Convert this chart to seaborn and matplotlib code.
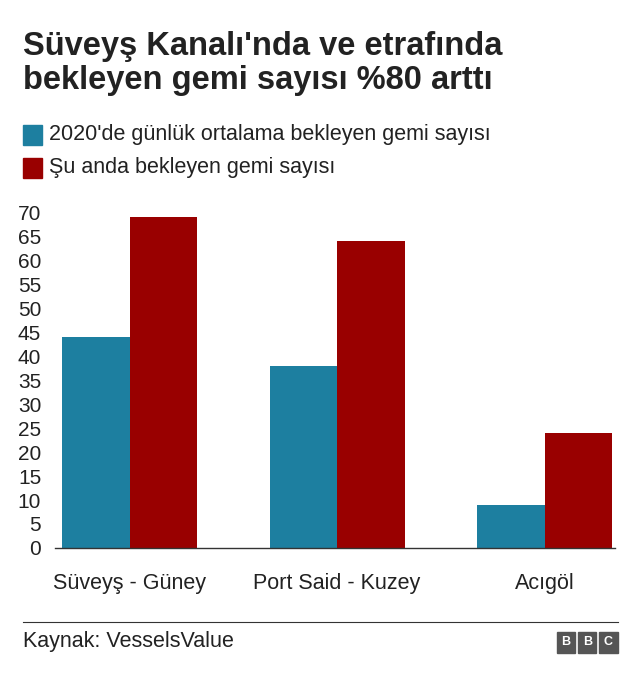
import matplotlib
matplotlib.use("Agg")
import matplotlib.pyplot as plt
import seaborn as sns
import pandas as pd
from matplotlib.patches import Rectangle

categories = ["Süveyş - Güney", "Port Said - Kuzey", "Acıgöl"]
avg_2020 = [44, 38, 9]
current = [69, 64, 24]
series_names = ["2020'de günlük ortalama bekleyen gemi sayısı", "Şu anda bekleyen gemi sayısı"]
yticks = list(range(0, 75, 5))

df = pd.DataFrame({
    "cat": categories * 2,
    "val": avg_2020 + current,
    "series": [series_names[0]] * 3 + [series_names[1]] * 3,
})
colors = ["#1d7fa0", "#990000"]

plt.rcParams["font.family"] = "Liberation Sans"
fig = plt.figure(figsize=(6.4, 6.82), dpi=100)
ax = fig.add_axes([0.086, 0.1965, 0.875, 0.4925])
sns.barplot(data=df, x="cat", y="val", hue="series", palette=colors, width=0.65,
            saturation=1, ax=ax, legend=False)
ax.set_xlim(-0.36, 2.34)
ax.set_ylim(0, 70)
ax.set_yticks(yticks)
ax.set_yticklabels([str(t) for t in yticks], fontsize=15, color="#222222")
ax.tick_params(axis="y", length=0, pad=10)
ax.tick_params(axis="x", length=0, pad=18, labelsize=15.5, labelcolor="#222222")
ax.set_xlabel("")
ax.set_ylabel("")
for s in ["top", "right", "left"]:
    ax.spines[s].set_visible(False)
ax.spines["bottom"].set_color("#333333")
ax.spines["bottom"].set_linewidth(1)

fig.text(0.036, 0.955, "Süveyş Kanalı'nda ve etrafında\nbekleyen gemi sayısı %80 arttı",
         fontsize=23.5, fontweight="bold", va="top", ha="left", color="#222222", linespacing=1.15)
for i, (name, c) in enumerate(zip(series_names, colors)):
    y = 0.803 - i * 0.049
    fig.patches.append(Rectangle((0.036, y - 0.015), 0.03, 0.029, transform=fig.transFigure,
                                 color=c, figure=fig))
    fig.text(0.077, y, name, fontsize=15.5, va="center", ha="left", color="#222222")

fig.add_artist(plt.Line2D([0.036, 0.965], [0.088, 0.088], transform=fig.transFigure,
                          color="#333333", lw=0.8))
fig.text(0.036, 0.060, "Kaynak: VesselsValue", fontsize=15.5, va="center", ha="left", color="#222222")
for i, letter in enumerate("BBC"):
    x0 = 0.870 + i * 0.033
    fig.patches.append(Rectangle((x0, 0.043), 0.029, 0.031, transform=fig.transFigure,
                                 color="#555555", figure=fig))
    fig.text(x0 + 0.0145, 0.0585, letter, fontsize=9, fontweight="bold", color="white",
             ha="center", va="center")

fig.savefig("out.png", dpi=100)
